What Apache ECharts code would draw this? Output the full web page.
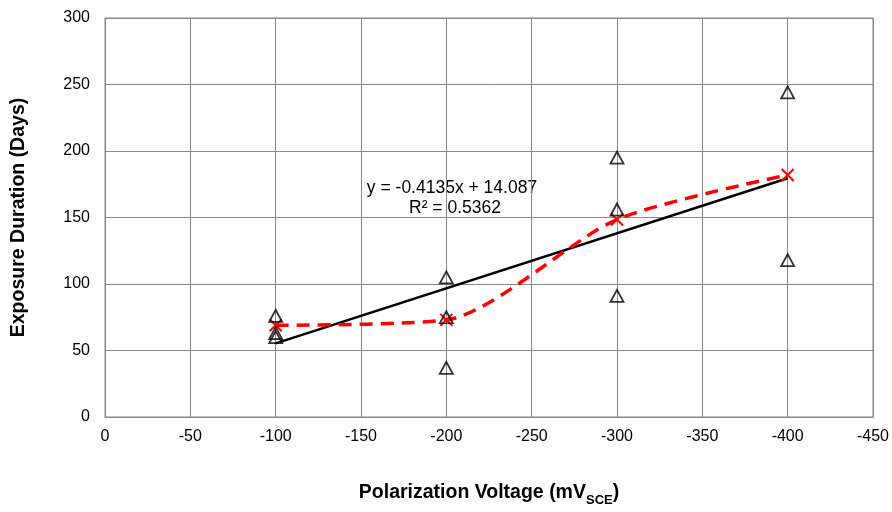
<!DOCTYPE html>
<html><head><meta charset="utf-8">
<script src="https://cdn.jsdelivr.net/npm/echarts@6/dist/echarts.min.js"></script>
<style>html,body{margin:0;padding:0;background:#fff}#c{width:892px;height:512px}</style>
</head><body><div id="c"></div>
<script>
const voltages = [-100, -200, -300, -400];
const observations = [
  [-100, 76], [-100, 63], [-100, 60],
  [-200, 105], [-200, 75], [-200, 37],
  [-300, 195], [-300, 156], [-300, 91],
  [-400, 244], [-400, 118]
];
const means = [69, 73, 148.5, 182];
const trendEnds = [[-100, 55.4], [-400, 179.5]];
const yTicks = {min: 0, max: 300, interval: 50};
const xTicks = {min: -450, max: 0, interval: 50};
const eqText = 'y = -0.4135x + 14.087';
const r2Text = 'R² = 0.5362';

const chart = echarts.init(document.getElementById('c'));
const font = 'Liberation Sans, Arial, sans-serif';
chart.setOption({
  animation: false,
  grid: {left: 105, right: 19, top: 18, bottom: 90, show: true, borderColor: '#888', borderWidth: 1},
  xAxis: {
    type: 'value', inverse: true, min: xTicks.min, max: xTicks.max, interval: xTicks.interval,
    axisLine: {show: true, onZero: false, lineStyle: {color: '#888'}},
    axisTick: {show: false},
    splitLine: {show: true, lineStyle: {color: '#888', width: 1}},
    axisLabel: {color: '#000', fontSize: 16, fontFamily: font, margin: 12},
    name: '{b|Polarization Voltage (mV}{s|SCE}{b|)}', nameLocation: 'middle', nameGap: 64,
    nameTextStyle: {rich: {
      b: {fontSize: 19.5, fontWeight: 'bold', fontFamily: font, color: '#000', verticalAlign: 'bottom', lineHeight: 22},
      s: {fontSize: 13, fontWeight: 'bold', fontFamily: font, color: '#000', verticalAlign: 'bottom', padding: [0,0,-4,0], lineHeight: 22}
    }}
  },
  yAxis: {
    type: 'value', min: yTicks.min, max: yTicks.max, interval: yTicks.interval,
    axisLine: {show: true, lineStyle: {color: '#888'}},
    axisTick: {show: false},
    splitLine: {show: true, lineStyle: {color: '#888', width: 1}},
    axisLabel: {color: '#000', fontSize: 16, fontFamily: font, margin: 15},
    name: 'Exposure Duration (Days)', nameLocation: 'middle', nameGap: 76,
    nameTextStyle: {fontSize: 19.5, fontWeight: 'bold', fontFamily: font, color: '#000'}
  },
  series: [
    {
      type: 'line', data: trendEnds, symbol: 'none',
      lineStyle: {color: '#000', width: 2.5}, z: 3
    },
    {
      type: 'line', data: voltages.map((v, i) => [v, means[i]]), smooth: 0.25,
      symbol: 'path://M0,0L10,10M10,0L0,10', symbolSize: 12,
      itemStyle: {color: 'none', borderColor: '#ff0000', borderWidth: 2},
      lineStyle: {color: '#ff0000', width: 3.5, type: [13, 8]}, z: 4
    },
    {
      type: 'scatter', data: observations, symbol: 'triangle', symbolSize: [13, 12],
      itemStyle: {color: 'rgba(255,255,255,0)', borderColor: '#000', borderWidth: 1.8}, z: 5
    }
  ],
  graphic: [
    {type: 'text', x: 452, y: 188, style: {text: eqText, fontSize: 17.5, fontFamily: font, fill: '#000', textAlign: 'center', textVerticalAlign: 'middle'}},
    {type: 'text', x: 455, y: 208, style: {text: r2Text, fontSize: 17.5, fontFamily: font, fill: '#000', textAlign: 'center', textVerticalAlign: 'middle'}}
  ]
});
</script></body></html>
